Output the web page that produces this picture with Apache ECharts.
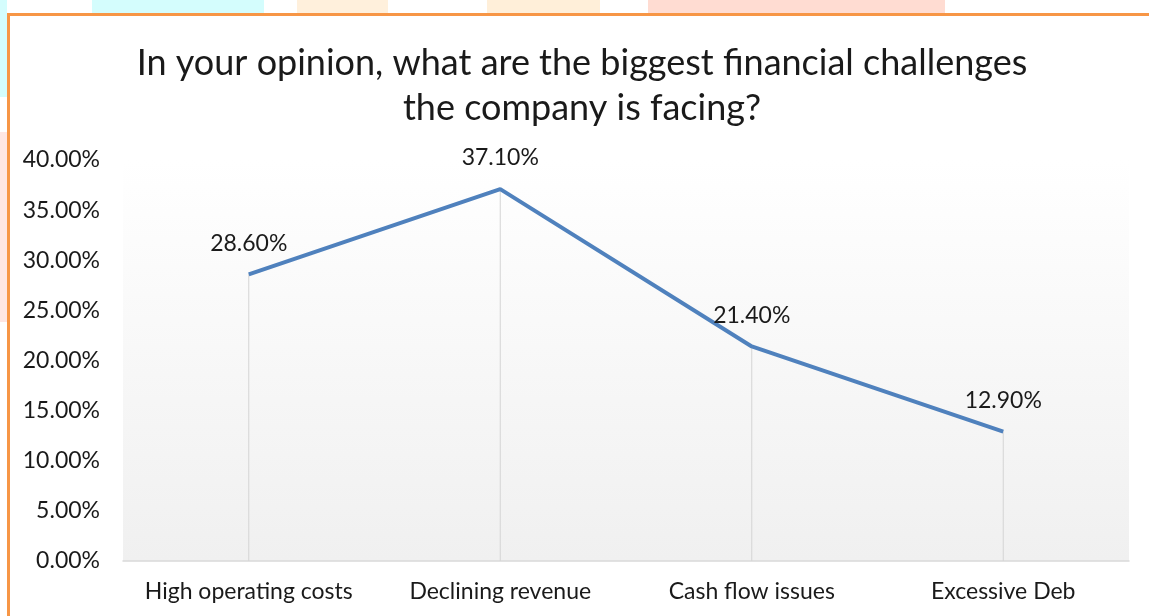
<!DOCTYPE html>
<html>
<head>
<meta charset="utf-8">
<script src="https://cdn.jsdelivr.net/npm/echarts@6/dist/echarts.min.js"></script>
<style>
  html, body { margin: 0; padding: 0; background: #fff; }
  #main { width: 1149px; height: 616px; }
</style>
</head>
<body>
<div id="main"></div>
<script>
var dom = document.getElementById("main");
var myChart = echarts.init(dom, null, { renderer: "canvas" });

var categories = ["High operating costs", "Declining revenue", "Cash flow issues", "Excessive Deb"];
var shares = [28.6, 37.1, 21.4, 12.9];
var titleLines = ["In your opinion, what are the biggest financial challenges", "the company is facing?"];

var font = "Lato";

var option = {
  backgroundColor: "#fff",
  textStyle: { fontFamily: font },
  title: {
    text: titleLines.join("\n"),
    left: 577,
    top: 36,
    textAlign: "center",
    textStyle: { fontFamily: font, fontSize: 36, fontWeight: "normal", color: "#1a1a1a", lineHeight: 45 },
  },
  // faint page decoration + orange frame
  graphic: [
    { type: "rect", shape: { x: 92, y: 0, width: 172, height: 13 }, style: { fill: "#d4fdfd" }, z: 0 },
    { type: "rect", shape: { x: 297, y: 0, width: 91, height: 13 }, style: { fill: "#fff0dc" }, z: 0 },
    { type: "rect", shape: { x: 487, y: 0, width: 113, height: 13 }, style: { fill: "#ffefd9" }, z: 0 },
    { type: "rect", shape: { x: 648, y: 0, width: 297, height: 13 }, style: { fill: "#ffdcd2" }, z: 0 },
    { type: "rect", shape: { x: 0, y: 0, width: 7, height: 97 }, style: { fill: "#d4fdfd" }, z: 0 },
    { type: "rect", shape: { x: 0, y: 132, width: 7, height: 190 }, style: { fill: "#ffe6e2" }, z: 0 },
    { type: "rect", shape: { x: 7, y: 13, width: 1142, height: 3 }, style: { fill: "#f79646" }, z: 1 },
    { type: "rect", shape: { x: 7, y: 13, width: 3, height: 603 }, style: { fill: "#f79646" }, z: 1 },
  ],
  grid: {
    left: 123,
    right: 20,
    top: 160,
    bottom: 55,
    show: true,
    borderWidth: 0,
    backgroundColor: new echarts.graphic.LinearGradient(0, 0, 0, 1, [
      { offset: 0, color: "#ffffff" },
      { offset: 1, color: "#f0f0f0" },
    ]),
  },
  xAxis: {
    type: "category",
    data: categories,
    boundaryGap: true,
    axisLine: { lineStyle: { color: "#d9d9d9", width: 1.5 } },
    axisTick: { show: false },
    axisLabel: { color: "#1a1a1a", fontSize: 23, fontFamily: font, margin: 19, interval: 0 },
  },
  yAxis: {
    type: "value",
    min: 0,
    max: 40,
    interval: 5,
    axisLine: { show: false },
    axisTick: { show: false },
    splitLine: { show: false },
    axisLabel: {
      color: "#1a1a1a",
      fontSize: 23,
      fontFamily: font,
      margin: 23,
      formatter: function (v) { return v.toFixed(2) + "%"; },
    },
  },
  series: [
    {
      // drop lines
      type: "bar",
      data: shares,
      barWidth: 1,
      itemStyle: { color: "#d4d4d4" },
      silent: true,
      z: 1,
    },
    {
      type: "line",
      data: shares,
      symbol: "circle",
      symbolSize: 1,
      showSymbol: true,
      itemStyle: { color: "rgba(0,0,0,0)" },
      lineStyle: { color: "#4f81bd", width: 4 },
      label: {
        show: true,
        position: "top",
        distance: 19,
        color: "#1a1a1a",
        fontSize: 23,
        fontFamily: font,
        formatter: function (p) { return p.value.toFixed(2) + "%"; },
      },
      z: 3,
    },
  ],
};

myChart.setOption(option);
</script>
</body>
</html>
